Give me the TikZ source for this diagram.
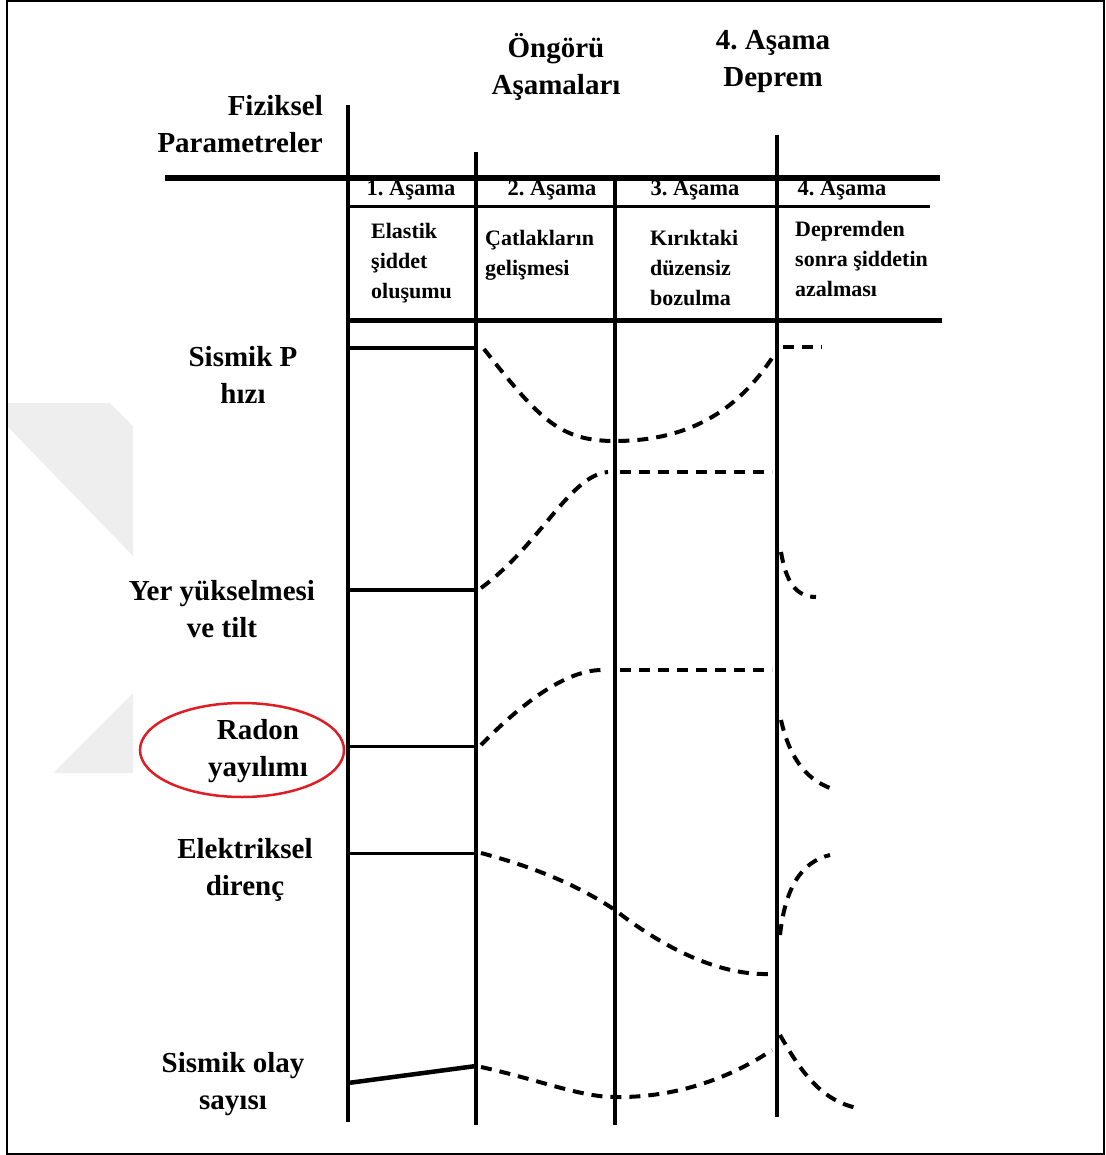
\documentclass[tikz,border=0pt]{standalone}
\usepackage{fontspec}
\setmainfont{Liberation Serif}
\usetikzlibrary{shapes.geometric}
\frenchspacing
\definecolor{markred}{RGB}{222,30,36}
\definecolor{wmark}{RGB}{238,238,238}
\tikzset{
  big/.style={font=\bfseries\fontsize{29}{37}\selectfont, align=center, inner sep=0pt},
  hdr/.style={font=\bfseries\fontsize{22.5}{26}\selectfont, inner sep=0pt},
  cell/.style={font=\bfseries\fontsize{22}{30}\selectfont, align=left, anchor=west, inner sep=0pt},
  gridline/.style={line width=4.5pt},
  flatline/.style={line width=4.5pt},
  dashcurve/.style={line width=4pt, dash pattern=on 11pt off 8pt},
}
\begin{document}
\begin{tikzpicture}[x=1pt,y=-1pt]
\useasboundingbox (0,0) rectangle (1105,1155);
\fill[wmark] (7,403) -- (110,403) -- (133,426) -- (133,556) -- (7,426) -- cycle;
\fill[wmark] (133,693) -- (133,773) -- (53,773) -- cycle;
\draw[line width=1.5pt] (7,1) rectangle (1104,1154);

\foreach \x/\t/\b in {348/105/1122, 476/152/1125, 615/178/1125, 777/135/1117}
  \draw[gridline] (\x,\t) -- (\x,\b);
\draw[line width=5.5pt] (165,178) -- (940,178);
\draw[line width=3pt] (348,207) -- (930,207);
\draw[line width=5pt] (348,320) -- (942,320);

\node[big, align=right, anchor=east] (fiz) at (323,124) {Fiziksel\\Parametreler};
\node[big] (ongoru) at (556,67) {Öngörü\\Aşamaları};
\node[big] (deprem) at (773,62) {4. Aşama\\Deprem};

\node[hdr] (a1) at (411,190) {1. Aşama};
\node[hdr] (a2) at (552,190) {2. Aşama};
\node[hdr] (a3) at (695,190) {3. Aşama};
\node[hdr] (a4) at (842,190) {4. Aşama};

\node[cell] (c1) at (371,263) {Elastik\\şiddet\\oluşumu};
\node[cell] (c2) at (485,255) {Çatlakların\\gelişmesi};
\node[cell] (c3) at (650,268) {Kırıktaki\\düzensiz\\bozulma};
\node[cell] (c4) at (795,259) {Depremden\\sonra şiddetin\\azalması};

\node[big] (pvel) at (243,375) {Sismik P\\hızı};
\node[big] (yer) at (222,609) {Yer yükselmesi\\ve tilt};
\node[draw=markred, line width=2.5pt, ellipse, minimum width=204pt, minimum height=94pt] (radonring) at (242,750) {};
\node[big] (radon) at (258,751) {Radon\\yayılımı};
\node[big] (elek) at (245,870) {Elektriksel\\direnç};
\node[big] (olay) at (233,1084) {Sismik olay\\sayısı};

\draw[flatline] (348,348) -- (476,348);
\draw[dashcurve] (484,349) .. controls (540,420) and (560,441) .. (615,441) .. controls (700,441) and (745,400) .. (774,355);
\draw[dashcurve] (783,347) -- (822,347);

\draw[flatline] (348,590) -- (476,590);
\draw[dashcurve] (481,588) .. controls (540,545) and (570,475) .. (608,472);
\draw[dashcurve] (620,472) -- (772,472);
\draw[dashcurve] (781,552) .. controls (786,582) and (796,597) .. (816,597);

\draw[line width=3pt] (348,746) -- (476,746);
\draw[dashcurve] (481,745) .. controls (520,705) and (565,670) .. (602,670);
\draw[dashcurve] (620,670) -- (772,670);
\draw[dashcurve] (781,720) .. controls (790,760) and (808,782) .. (836,790);

\draw[line width=3pt] (348,853) -- (476,853);
\draw[dashcurve] (481,853) .. controls (545,870) and (585,890) .. (615,910) .. controls (660,945) and (715,975) .. (768,974);
\draw[dashcurve] (780,935) .. controls (785,890) and (800,862) .. (830,855);

\draw[flatline] (348,1083) -- (476,1066);
\draw[dashcurve] (481,1067) .. controls (540,1080) and (580,1097) .. (615,1097) .. controls (680,1098) and (735,1075) .. (772,1050);
\draw[dashcurve] (780,1035) .. controls (800,1070) and (820,1100) .. (857,1108);
\end{tikzpicture}
\end{document}
